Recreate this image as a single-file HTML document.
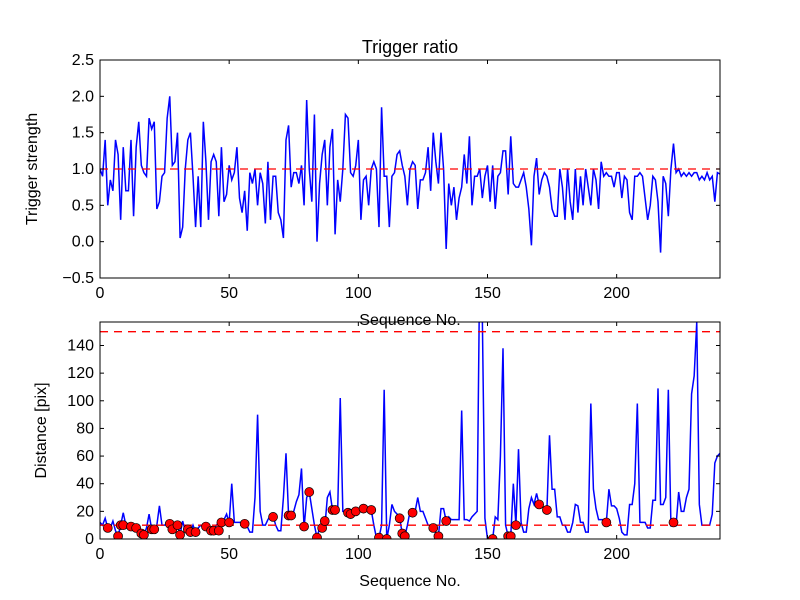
<!DOCTYPE html>
<html><head><meta charset="utf-8"><style>
body{margin:0;background:#fff;}
svg{display:block;font-family:"Liberation Sans","DejaVu Sans",sans-serif;}
</style></head><body>
<svg id="chart" width="800" height="600" viewBox="0 0 800 600" xmlns="http://www.w3.org/2000/svg">
<rect width="800" height="600" fill="#fff"/>
<text x="410" y="53" font-size="18" text-anchor="middle">Trigger ratio</text>
<g id="top"></g>
<g id="bot"></g>
</svg>
<script>
const xTicks=[0,50,100,150,200];
const topYTicks=[-0.5,0.0,0.5,1.0,1.5,2.0,2.5];
const topYTickLabels=["\u22120.5","0.0","0.5","1.0","1.5","2.0","2.5"];
const botYTicks=[0,20,40,60,80,100,120,140];
const strength=[1.0,0.9,1.4,0.5,0.85,0.7,1.4,1.2,0.3,1.3,0.7,0.7,1.4,0.35,1.3,1.65,1.05,0.95,0.9,1.7,1.55,1.65,0.45,0.55,0.9,0.95,1.7,2.0,1.05,1.1,1.5,0.05,0.2,1.0,1.4,1.5,0.9,0.2,0.9,0.2,1.65,1.1,0.3,1.1,1.2,1.1,0.35,1.3,0.55,0.65,1.05,0.85,0.95,1.3,0.6,0.4,0.7,0.15,0.95,0.8,1.0,0.5,0.95,0.8,0.25,1.1,0.3,0.9,0.9,0.4,0.3,0.05,1.4,1.6,0.75,0.95,0.95,0.8,1.05,0.5,1.95,1.0,0.55,1.75,0.0,0.8,1.2,1.4,0.5,1.3,1.55,0.1,0.85,0.55,1.0,1.75,1.7,0.95,0.9,1.05,1.4,0.3,0.85,0.9,0.5,1.0,1.1,1.0,0.2,1.85,0.9,0.9,0.2,0.9,0.95,1.2,1.25,1.05,0.9,0.5,1.0,1.1,1.05,0.45,0.85,0.85,0.95,1.3,0.7,1.5,1.1,0.8,1.5,1.0,-0.1,0.8,0.5,0.75,0.3,0.6,0.75,1.2,0.8,1.45,0.5,0.9,0.9,1.0,0.6,0.9,1.05,0.55,1.05,0.45,0.9,0.95,1.25,1.25,0.65,1.45,0.8,0.75,0.75,0.85,0.95,0.75,0.45,-0.05,0.9,1.15,0.65,0.85,0.95,0.9,0.75,0.45,0.35,0.35,1.0,0.75,0.3,1.0,0.55,0.3,1.0,0.4,0.9,0.5,1.0,0.75,0.5,1.0,0.85,0.45,1.1,0.9,0.95,0.9,0.9,0.75,0.95,0.95,0.6,0.9,0.85,0.4,0.3,0.9,0.9,0.95,0.9,0.6,0.3,0.5,0.9,0.85,0.55,-0.15,0.9,0.8,0.35,1.0,1.35,0.95,1.0,0.9,0.95,0.9,0.95,0.9,0.95,0.95,0.85,0.9,0.85,0.95,0.85,0.9,0.55,0.95,0.93];
const distance=[12,10,15,8,8,13,6,2,10,19,10,11,9,11,8,7,4,3,8,18,7,7,10,24,10,10,11,11,7,10,10,3,13,6,7,5,10,5,8,10,9,9,10,6,6,10,12,12,14,18,12,40,12,12,12,12,11,9,5,5,30,90,20,10,10,14,17,17,10,6,6,30,62,17,17,20,27,32,51,8,30,34,22,10,1,8,13,8,30,34,21,21,20,102,20,20,19,18,20,20,22,22,22,24,22,21,10,1,1,10,108,0,10,25,20,18,15,4,2,10,20,19,20,30,20,20,15,10,10,8,4,2,22,22,13,16,14,14,14,14,93,14,14,13,16,18,20,200,160,15,0,2,0,16,14,60,138,10,2,2,40,10,65,12,5,5,22,30,25,33,25,23,23,21,75,36,36,16,16,10,10,5,5,12,25,24,12,12,5,5,98,36,22,14,14,14,12,36,24,24,22,15,5,3,3,25,25,40,98,12,12,12,8,8,28,28,109,25,25,30,108,10,12,10,34,20,20,30,36,105,118,157,25,10,10,10,10,18,55,60,62];
const dotIdx=[3,7,8,9,12,14,16,17,20,21,27,28,30,31,34,35,37,41,43,44,46,47,50,56,67,73,74,79,81,84,86,87,90,91,96,97,99,102,105,108,111,116,117,118,121,129,131,134,152,158,159,161,170,173,196,222];
const dotVal=[8,2,10,10,9,8,4,3,7,7,11,7,10,3,7,5,5,9,6,6,6,12,12,11,16,17,17,9,34,1,8,13,21,21,19,18,20,22,21,1,0,15,4,2,19,8,2,13,0,2,2,10,25,21,12,12];

const NS="http://www.w3.org/2000/svg";
function mk(tag,attrs,parent){const e=document.createElementNS(NS,tag);for(const k in attrs)e.setAttribute(k,attrs[k]);parent.appendChild(e);return e;}
const X0=100,X1=720;
const xs=v=>X0+(v/240)*(X1-X0);

function panel(g,Y0,Y1,ymin,ymax,yt,ytl,ylabel,ylabX,clipId){
  const ys=v=>Y1-(v-ymin)/(ymax-ymin)*(Y1-Y0);
  const cp=mk('clipPath',{id:clipId},g);
  mk('rect',{x:X0,y:Y0,width:X1-X0,height:Y1-Y0},cp);
  const plot=mk('g',{'clip-path':'url(#'+clipId+')'},g);
  xTicks.forEach(t=>{
    const x=xs(t);
    const a=mk('line',{x1:x,x2:x,y1:Y1,y2:Y1-4,stroke:'#000'},g);
    
    
    mk('line',{x1:x,x2:x,y1:Y0,y2:Y0+4,stroke:'#000'},g);
    const l=mk('text',{x:x,y:Y1+20,'font-size':16,'text-anchor':'middle'},g);
    l.textContent=String(t);
    
    
  });
  yt.forEach((t,i)=>{
    const y=ys(t);
    const a=mk('line',{x1:X0,x2:X0+4,y1:y,y2:y,stroke:'#000'},g);
    
    
    mk('line',{x1:X1,x2:X1-4,y1:y,y2:y,stroke:'#000'},g);
    const l=mk('text',{x:X0-6,y:y+5,'font-size':16,'text-anchor':'end'},g);
    l.textContent=ytl?ytl[i]:String(t);
    
    
  });
  const yl=mk('text',{x:ylabX,y:(Y0+Y1)/2,'font-size':16,'text-anchor':'middle',transform:'rotate(-90 '+ylabX+' '+(Y0+Y1)/2+')'},g);
  yl.textContent=ylabel;
  
  
  const xl=mk('text',{x:410,y:Y1+47,'font-size':16,'text-anchor':'middle'},g);
  xl.textContent='Sequence No.';
  
  
  return {ys,plot};
}

const T=panel(document.getElementById('top'),60,278,-0.5,2.5,topYTicks,topYTickLabels,'Trigger strength',37,'c1');
const tl=mk('polyline',{points:strength.map((v,i)=>xs(i)+','+T.ys(v)).join(' '),fill:'none',stroke:'#0000ff','stroke-width':1.5},T.plot);


const tr=mk('line',{x1:X0,x2:X1,y1:T.ys(1),y2:T.ys(1),stroke:'#ff0000','stroke-width':1.3,'stroke-dasharray':'8,6'},T.plot);


mk('rect',{x:X0,y:60,width:X1-X0,height:218,fill:'none',stroke:'#000','stroke-width':1},document.getElementById('top'));

const B=panel(document.getElementById('bot'),322,539,0,157,botYTicks,null,'Distance [pix]',46,'c2');
const bl=mk('polyline',{points:distance.map((v,i)=>xs(i)+','+B.ys(v)).join(' '),fill:'none',stroke:'#0000ff','stroke-width':1.5},B.plot);


[10,150].forEach(v=>{
  const d=mk('line',{x1:X0,x2:X1,y1:B.ys(v),y2:B.ys(v),stroke:'#ff0000','stroke-width':1.3,'stroke-dasharray':'8,6'},B.plot);
  
  
});
dotIdx.forEach((ix,k)=>{
  const c=mk('circle',{cx:xs(ix),cy:B.ys(dotVal[k]),r:4.5,fill:'#ff0000',stroke:'#000','stroke-width':0.7},B.plot);
  
  
});
mk('rect',{x:X0,y:322,width:X1-X0,height:217,fill:'none',stroke:'#000','stroke-width':1},document.getElementById('bot'));
</script>
</body></html>
